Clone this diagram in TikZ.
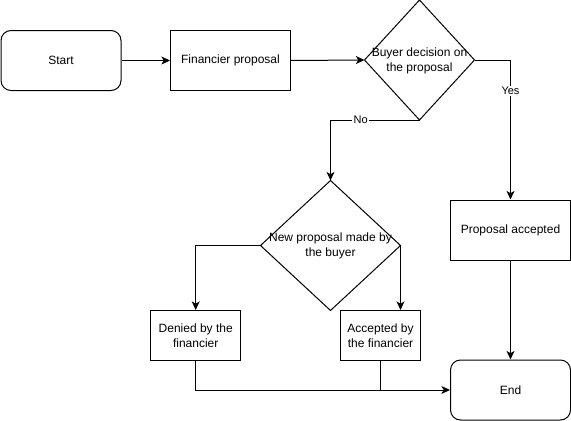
\documentclass[tikz,border=0pt]{standalone}
\usepackage{fontspec}
\setmainfont{Liberation Sans}
\usetikzlibrary{shapes.geometric,arrows.meta}

\begin{document}
\begin{tikzpicture}[x=0.75pt,y=-0.75pt,
  every node/.style={font=\fontsize{9}{11.25}\selectfont, align=center, inner sep=0pt},
  box/.style={draw, line width=0.75pt, minimum width=#1, minimum height=45pt},
  box/.default=90pt,
  term/.style={box, rounded corners=7.5pt},
  decision/.style={draw, diamond, line width=0.75pt, aspect=1, outer sep=0pt},
  flow/.style={draw, line width=0.75pt, -{Stealth[length=6.5pt,width=6pt,inset=1.8pt]}},
  plain/.style={draw, line width=0.75pt},
  edgelabel/.style={fill=white, font=\fontsize{8.25}{10}\selectfont, inner sep=1pt}
]
\useasboundingbox (0,0) rectangle (571,421);

% top row
\node[term] (start) at (61,60.5) {Start};
\node[box] (fin) at (230.5,60.5) {Financier proposal};
\node[decision, minimum width=82.5pt, minimum height=90pt] (dec) at (419.5,60) {};
\node (dectext) at ([yshift=-1pt]dec.center) {Buyer decision on\\the proposal};

% right column
\node[box] (pa) at (510.5,230) {Proposal accepted};
\node[term] (end) at (510.5,390) {End};

% lower branch
\node[decision, minimum width=105pt, minimum height=97.5pt] (newp) at (330.5,245.5) {};
\node (newptext) at ([yshift=-0.5pt]newp.center) {New proposal made by\\the buyer};
\node[box=67.5pt, minimum height=37.5pt] (den) at (195.7,335.5) {Denied by the\\financier};
\node[box=60pt, minimum height=37.5pt] (acc) at (380.5,335.5) {Accepted by\\the financier};

% connectors
\draw[flow] (start.east) -- (fin.west);
\draw[flow] (fin.east) -- (dec.west);
\draw[flow] (dec.east) -| node[edgelabel, pos=0.61] {Yes} (pa.north);
\draw[flow] (dec.south) -| node[edgelabel, pos=0.33] {No} (newp.north);
\draw[flow] (newp.west) -| (den.north);
\draw[flow] (newp.east) -- (newp.east |- acc.north);
\draw[flow] (pa.south) -- (end.north);
\draw[flow] (den.south) |- (end.west);
\draw[plain] (acc.south) -- (acc.south |- end.west);
\end{tikzpicture}
\end{document}
